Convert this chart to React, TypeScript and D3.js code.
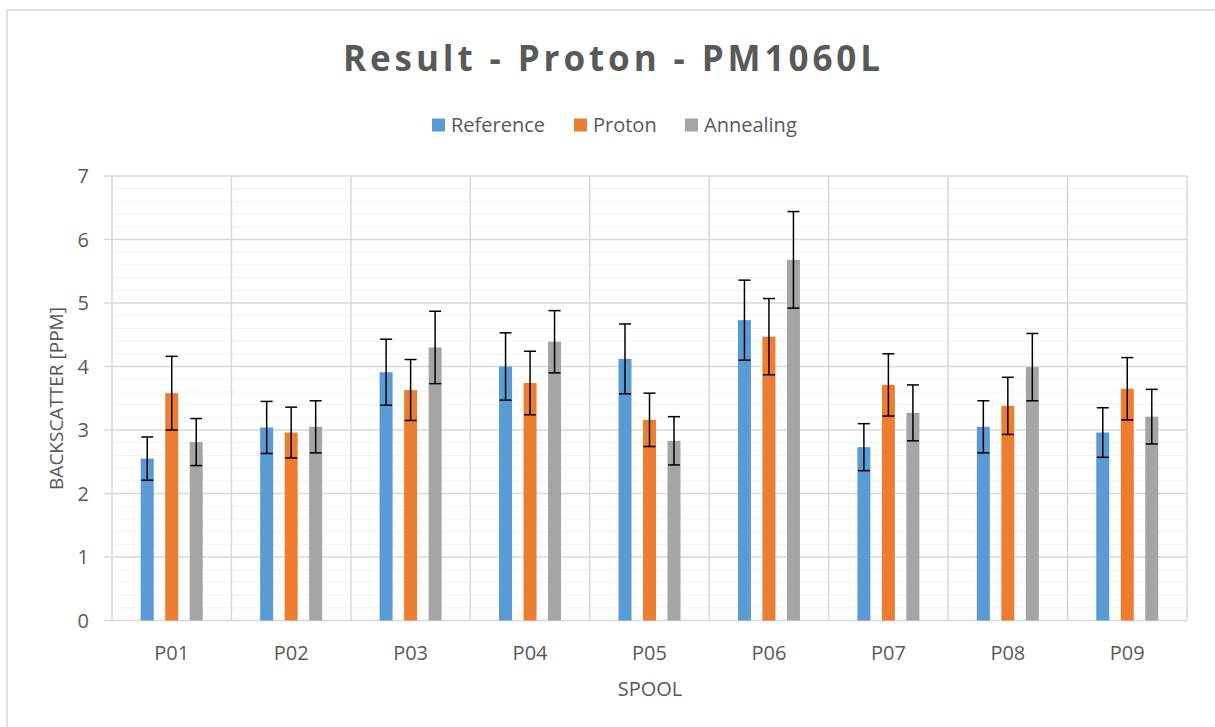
import React from "react";
import * as d3 from "d3";

const categories = ["P01", "P02", "P03", "P04", "P05", "P06", "P07", "P08", "P09"];
const seriesNames = ["Reference", "Proton", "Annealing"];
const seriesColors = ["#5b9bd5", "#ed7d31", "#a5a5a5"];
const reference = [2.55, 3.04, 3.91, 4.0, 4.12, 4.73, 2.73, 3.05, 2.96];
const referenceErr = [0.34, 0.41, 0.52, 0.53, 0.55, 0.63, 0.37, 0.41, 0.39];
const proton = [3.58, 2.96, 3.63, 3.74, 3.16, 4.47, 3.71, 3.38, 3.65];
const protonErr = [0.58, 0.4, 0.48, 0.5, 0.42, 0.6, 0.49, 0.45, 0.49];
const annealing = [2.81, 3.05, 4.3, 4.39, 2.83, 5.68, 3.27, 3.99, 3.21];
const annealingErr = [0.37, 0.41, 0.57, 0.49, 0.38, 0.76, 0.44, 0.53, 0.43];
const yTicks = [0, 1, 2, 3, 4, 5, 6, 7];

const W = 1215;
const H = 727;
const left = 112;
const right = 1187;
const top = 176;
const bottom = 620.5;
const FONT = "'Open Sans', 'DejaVu Sans', sans-serif";
const TEXT = "#595959";

export default function App() {
  const x = d3.scaleBand<string>().domain(categories).range([left, right]).paddingInner(0).paddingOuter(0);
  const inner = d3.scaleBand<string>().domain(seriesNames).range([-31, 31]).paddingInner(0.4694).paddingOuter(0);
  const y = d3.scaleLinear().domain([0, 7]).range([bottom, top]);
  const minorTicks = d3.range(0, 7.0001, 0.2).filter((v) => Math.abs(v - Math.round(v)) > 1e-6);

  const values = [reference, proton, annealing];
  const errs = [referenceErr, protonErr, annealingErr];
  const cap = 12;

  const legendX = [432, 574, 685];

  return (
    <div style={{ position: "absolute", left: 0, top: 0 }}>
      <svg width={W} height={H} style={{ display: "block", background: "#fff" }}>
        <rect x={7} y={10} width={W} height={H} fill="#fff" stroke="#d9d9d9" strokeWidth={1.5} />
        {/* title */}
        <text
          x={611.5}
          y={71}
          textAnchor="middle"
          fontFamily={FONT}
          fontWeight={700}
          fontSize={35}
          fill={TEXT}
          textLength={537}
          lengthAdjust="spacing"
        >
          Result - Proton - PM1060L
        </text>
        {/* legend */}
        {seriesNames.map((s, i) => (
          <g key={s} transform={`translate(${legendX[i]},0)`}>
            <rect x={0} y={118.5} width={13} height={13} fill={seriesColors[i]} />
            <text x={19} y={132} fontFamily={FONT} fontSize={20} fill={TEXT}>
              {s}
            </text>
          </g>
        ))}
        {/* minor gridlines */}
        {minorTicks.map((t) => (
          <line key={"m" + t} x1={left} x2={right} y1={y(t)} y2={y(t)} stroke="#f2f2f2" strokeWidth={1} />
        ))}
        {/* vertical category lines */}
        {categories.map((c) => (
          <line key={"v" + c} x1={x(c)!} x2={x(c)!} y1={top} y2={bottom} stroke="#d9d9d9" strokeWidth={1.5} />
        ))}
        <line x1={right} x2={right} y1={top} y2={bottom} stroke="#d9d9d9" strokeWidth={1.5} />
        {/* major gridlines */}
        {yTicks.map((t) => (
          <line key={"g" + t} x1={left - 8} x2={right} y1={y(t)} y2={y(t)} stroke="#d9d9d9" strokeWidth={1.5} />
        ))}
        {/* y tick labels */}
        {yTicks.map((t) => (
          <text
            key={"yt" + t}
            x={89}
            y={y(t)}
            dy="0.36em"
            textAnchor="end"
            fontFamily={FONT}
            fontSize={20}
            fill={TEXT}
          >
            {t}
          </text>
        ))}
        {/* bars */}
        {categories.map((c, ci) => {
          const cx = x(c)! + x.bandwidth() / 2;
          return seriesNames.map((s, si) => {
            const bx = cx + inner(s)!;
            const v = values[si][ci];
            return (
              <rect
                key={c + s}
                x={bx}
                y={y(v)}
                width={inner.bandwidth()}
                height={y(0) - y(v)}
                fill={seriesColors[si]}
              />
            );
          });
        })}
        {/* error bars */}
        {categories.map((c, ci) => {
          const cx = x(c)! + x.bandwidth() / 2;
          return seriesNames.map((s, si) => {
            const mx = cx + inner(s)! + inner.bandwidth() / 2;
            const v = values[si][ci];
            const e = errs[si][ci];
            const y1 = y(v + e);
            const y2 = y(v - e);
            return (
              <g key={"e" + c + s} stroke="#000" strokeWidth={1.5}>
                <line x1={mx} x2={mx} y1={y1} y2={y2} />
                <line x1={mx - cap / 2} x2={mx + cap / 2} y1={y1} y2={y1} />
                <line x1={mx - cap / 2} x2={mx + cap / 2} y1={y2} y2={y2} />
              </g>
            );
          });
        })}
        {/* x tick labels */}
        {categories.map((c) => (
          <text
            key={"xt" + c}
            x={x(c)! + x.bandwidth() / 2}
            y={660}
            textAnchor="middle"
            fontFamily={FONT}
            fontSize={20}
            fill={TEXT}
          >
            {c}
          </text>
        ))}
        {/* axis titles */}
        <text x={650} y={696} textAnchor="middle" fontFamily={FONT} fontSize={20} fill={TEXT}>
          SPOOL
        </text>
        <text
          transform={`translate(56,398.5) rotate(-90)`}
          textAnchor="middle"
          dy="0.36em"
          fontFamily={FONT}
          fontSize={19}
          fill={TEXT}
        >
          BACKSCATTER [PPM]
        </text>
      </svg>
    </div>
  );
}
